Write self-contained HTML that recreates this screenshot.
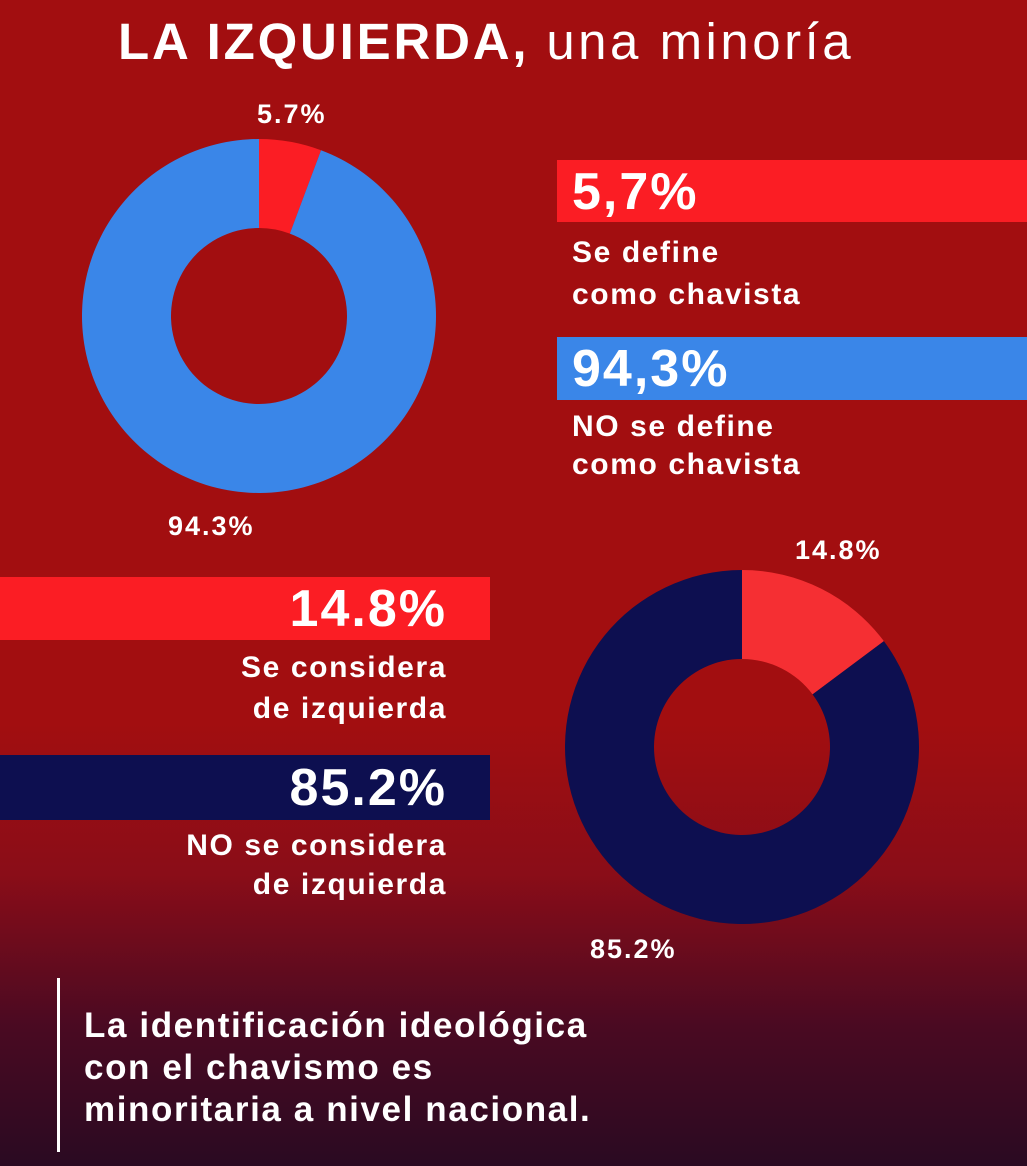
<!DOCTYPE html>
<html><head><meta charset="utf-8"><style>
*{margin:0;padding:0;box-sizing:border-box}
body{width:1027px;height:1166px;overflow:hidden;font-family:"Liberation Sans","DejaVu Sans",sans-serif;color:#fff;
background:linear-gradient(180deg,#a20e10 0%,#a20e10 62%,#8a0d18 75%,#4a0a22 88%,#2a0a22 100%);position:relative}
.t{position:absolute;white-space:nowrap;font-weight:bold}
.bar{position:absolute}
.big{font-size:52px;letter-spacing:2px}
.lab{font-size:30px;letter-spacing:1.6px}
</style></head><body>
<div class="t" style="left:118px;top:12px;font-size:51px;letter-spacing:2.8px">LA IZQUIERDA, <span style="font-weight:normal;letter-spacing:3.5px">una minoría</span></div>

<svg id="chart" width="1027" height="1166" style="position:absolute;left:0;top:0"></svg>

<div class="bar" style="left:557px;top:160px;width:470px;height:62px;background:#fb1d24"></div>
<div class="t big" style="left:572px;top:162px">5,7%</div>
<div class="t lab" style="left:572px;top:232px;line-height:42px">Se define<br>como chavista</div>
<div class="bar" style="left:557px;top:337px;width:470px;height:63px;background:#3a86e8"></div>
<div class="t big" style="left:572px;top:339px">94,3%</div>
<div class="t lab" style="left:572px;top:408px;line-height:38px">NO se define<br>como chavista</div>

<div class="bar" style="left:0;top:577px;width:490px;height:63px;background:#fb1d24"></div>
<div class="t big" style="right:580px;top:579px">14.8%</div>
<div class="t lab" style="right:580px;top:647px;line-height:41px;text-align:right">Se considera<br>de izquierda</div>
<div class="bar" style="left:0;top:755px;width:490px;height:65px;background:#0d0f50"></div>
<div class="t big" style="right:580px;top:758px">85.2%</div>
<div class="t lab" style="right:580px;top:826px;line-height:39px;text-align:right">NO se considera<br>de izquierda</div>

<div class="bar" style="left:57px;top:978px;width:3px;height:174px;background:#fff"></div>
<div class="t" style="left:84px;top:1005px;font-size:35px;letter-spacing:1.6px;line-height:42px">La identificación ideológica<br>con el chavismo es<br>minoritaria a nivel nacional.</div>

<script>
const donut1Labels = ["5.7%","94.3%"];
const donut1Values = [5.7, 94.3];
const donut2Labels = ["14.8%","85.2%"];
const donut2Values = [14.8, 85.2];
const svg = document.getElementById('chart');
const NS = 'http://www.w3.org/2000/svg';
function arc(cx,cy,R,r,a0,a1){
  const p=(a,rad)=>[cx+rad*Math.sin(a),cy-rad*Math.cos(a)];
  const large=(a1-a0)>Math.PI?1:0;
  const [x0,y0]=p(a0,R),[x1,y1]=p(a1,R),[x2,y2]=p(a1,r),[x3,y3]=p(a0,r);
  return `M${x0} ${y0}A${R} ${R} 0 ${large} 1 ${x1} ${y1}L${x2} ${y2}A${r} ${r} 0 ${large} 0 ${x3} ${y3}Z`;
}
function donut(cx,cy,vals,colors,names){
  const tot=vals.reduce((a,b)=>a+b,0); let a=0;
  vals.forEach((v,i)=>{
    const a1=a+v/tot*2*Math.PI;
    const path=document.createElementNS(NS,'path');
    path.setAttribute('d',arc(cx,cy,177,88,a,Math.min(a1,a+2*Math.PI-1e-4)));
    path.setAttribute('fill',colors[i]);
    
    
    svg.appendChild(path); a=a1;
  });
}
function label(x,y,t,name){
  const e=document.createElementNS(NS,'text');
  e.setAttribute('x',x);e.setAttribute('y',y);e.setAttribute('fill','#fff');
  e.setAttribute('font-size','27');e.setAttribute('font-weight','bold');
  e.setAttribute('letter-spacing','2');
  e.setAttribute('font-family','Liberation Sans, sans-serif');
  e.textContent=t;
  
  
  svg.appendChild(e);
}
donut(259,316,donut1Values,['#fb1d24','#3a86e8'],['slice-chavista','slice-no-chavista']);
donut(742,747,donut2Values,['#f52f33','#0d0f50'],['slice-izquierda','slice-no-izquierda']);
label(257,123,donut1Labels[0],'donut1-label-small');
label(168,535,donut1Labels[1],'donut1-label-large');
label(795,559,donut2Labels[0],'donut2-label-small');
label(590,958,donut2Labels[1],'donut2-label-large');
</script>
</body></html>
